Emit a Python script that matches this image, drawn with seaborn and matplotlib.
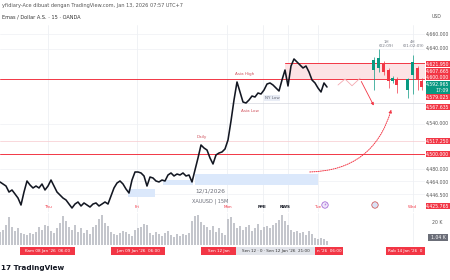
import numpy as np
import matplotlib
matplotlib.use("Agg")
import matplotlib.pyplot as plt
import seaborn as sns
from matplotlib.patches import Rectangle

# ---------------- data ----------------
close = [4462.7, 4460.0, 4457.3, 4449.3, 4452.0, 4446.7, 4441.3, 4432.0, 4449.3, 4464.0,
         4458.7, 4454.7, 4457.3, 4454.7, 4460.0, 4452.0, 4457.3, 4465.3, 4457.3, 4449.3,
         4445.3, 4441.3, 4438.7, 4433.3, 4428.0, 4433.3, 4436.0, 4430.7, 4434.7, 4432.0,
         4429.3, 4433.3, 4434.7, 4430.7, 4433.3, 4436.0, 4433.3, 4444.0, 4454.7, 4461.3,
         4464.0, 4460.0, 4453.3, 4448.0, 4465.3, 4476.0, 4476.0, 4474.7, 4470.7, 4457.3,
         4469.3, 4468.0, 4464.0, 4462.7, 4465.3, 4464.0, 4472.0, 4474.7, 4470.7, 4473.3,
         4472.0, 4474.7, 4470.7, 4472.0, 4462.7, 4478.7, 4494.7, 4512.0, 4508.0, 4505.3,
         4494.7, 4486.7, 4498.7, 4501.3, 4502.7, 4506.7, 4518.7, 4544.0, 4572.0, 4596.0,
         4582.7, 4569.3, 4568.0, 4572.0, 4577.3, 4576.0, 4581.3, 4580.0, 4585.3, 4593.3,
         4594.7, 4592.0, 4588.0, 4584.0, 4598.7, 4612.0, 4590.7, 4617.3, 4626.7, 4622.7,
         4618.7, 4614.7, 4617.3, 4609.3, 4598.7, 4594.7, 4588.0, 4582.7, 4594.7, 4589.3]

volume_k = [12, 14, 18, 25, 16, 13, 15, 11, 10, 9,
            11, 10, 12, 16, 14, 18, 17, 13, 11, 15,
            20, 26, 22, 16, 14, 18, 12, 15, 11, 14,
            10, 16, 18, 24, 27, 20, 17, 12, 10, 9,
            11, 13, 12, 10, 8, 14, 15, 16, 19, 18,
            11, 9, 12, 10, 8, 11, 13, 9, 7, 10,
            8, 10, 9, 11, 22, 26, 27, 21, 18, 16,
            14, 17, 12, 15, 11, 9, 24, 25, 20, 15,
            17, 14, 16, 18, 13, 15, 19, 14, 16, 17,
            15, 18, 20, 23, 27, 22, 18, 14, 12, 13,
            11, 12, 9, 13, 10, 6, 5, 6, 5, 4]

# higher-timeframe candles on the right (1H then 4H)
htf_open = [4612, 4615, 4620, 4612, 4598, 4600, 4585, 4605, 4615, 4598]
htf_high = [4630, 4640, 4624, 4615, 4604, 4603, 4602, 4632, 4618, 4601]
htf_low = [4585, 4610, 4606, 4588, 4595, 4582, 4575, 4580, 4585, 4586]
htf_close = [4625, 4628, 4610, 4598, 4602, 4592, 4600, 4622, 4600, 4590]

axis_ticks = [4660.000, 4640.000, 4540.000, 4480.000, 4464.000, 4446.500]
red_levels = [4621.950, 4607.665, 4600.000, 4579.025, 4567.635, 4517.250, 4500.000, 4425.765]
last_price = 4592.965
day_labels = ["Thu", "Fri", "Mon", "Tue", "Wed"]
time_labels = ["Kam 08 Jan '26  06:00", "Jum 09 Jan '26  06:00", "Sen 12 Jan",
               "Sen 12 · 0 · Sen 12 Jan '26  21:00", "n '26  06:00", "Rab 14 Jan '26  0"]

# ---------------- style ----------------
sns.set_theme(style="white")
plt.rcParams["font.family"] = ["DejaVu Sans"]
RED = "#f23645"
GREEN = "#089981"
INK = "#131722"
GRID = "#eef0f4"

W, H = 450, 280
fig = plt.figure(figsize=(4.5, 2.8), dpi=100)
fig.patch.set_facecolor("white")

Y0 = 154.0   # pixel of 4500
K = 0.75     # px per USD
def pp(y):
    return 4500.0 + (Y0 - y) / K

PL, PR = 0, 425
axp = fig.add_axes([PL / W, 1 - 212 / H, (PR - PL) / W, 187 / H])
axv = fig.add_axes([PL / W, 1 - 245 / H, (PR - PL) / W, 32 / H])
axo = fig.add_axes([0, 0, 1, 1], zorder=5)
axo.set_xlim(0, W); axo.set_ylim(H, 0); axo.axis("off")

for a in (axp, axv):
    a.set_xlim(0, PR - PL)
    a.set_xticks([]); a.set_yticks([])
    for s in a.spines.values():
        s.set_visible(False)
    a.set_facecolor("none")
axp.set_ylim(pp(212), pp(25))
axv.set_ylim(0, 29)

# grid
for gx in [48, 137, 227, 263, 288, 318, 413]:
    axp.axvline(gx, color=GRID, lw=0.6, zorder=0)
    axv.axvline(gx, color=GRID, lw=0.6, zorder=0)
for t in axis_ticks:
    axp.axhline(t, color=GRID, lw=0.5, zorder=0)

# zones
axp.add_patch(Rectangle((128, 4442.7), 27, 10.6, color="#dbe8fb", lw=0, zorder=1))
axp.add_patch(Rectangle((163, 4458.7), 30, 6.6, color="#dbe8fb", lw=0, zorder=1))
axp.add_patch(Rectangle((195, 4458.7), 123, 14.6, color="#dbe8fb", lw=0, zorder=1))
axp.add_patch(Rectangle((285, 4600.0), 140, 21.95, color="#fce3e5", lw=0, zorder=1))

# levels
axp.axhline(4600.0, color=RED, lw=0.7, zorder=2)
axp.axhline(4500.0, color=RED, lw=0.7, zorder=2)
axp.plot([285, 425], [4621.95, 4621.95], color=RED, lw=0.7, zorder=2)
axp.axhline(4517.25, color="#f7c9cd", lw=0.5, zorder=1)
axp.plot([230, 425], [4567.635, 4567.635], color="#d6d8de", lw=0.5, zorder=1)

# price line
xs = np.arange(len(close)) * 3
sns.lineplot(x=xs, y=close, ax=axp, color=INK, lw=1.15, zorder=4)

# higher timeframe candles
hx = [374, 379, 384, 389, 393, 397, 408, 413, 418, 422]
for x, o, h_, l_, c in zip(hx, htf_open, htf_high, htf_low, htf_close):
    col = GREEN if c >= o else RED
    axp.vlines(x, l_, h_, color=col, lw=0.5, zorder=4)
    axp.bar(x, abs(c - o), bottom=min(o, c), width=3, color=col, lw=0, zorder=4)

# projection drawings
zz_x = [338, 345, 352, 360]
zz_y = [4592.0, 4600.0, 4591.0, 4601.0]
axp.plot(zz_x, zz_y, color="#f4a9b0", lw=0.6, zorder=3)
axp.annotate("", xy=(375, pp(108)), xytext=(360, pp(79)),
             arrowprops=dict(arrowstyle="-|>", color=RED, lw=0.6, mutation_scale=4))
axp.annotate("", xy=(392, pp(107)), xytext=(307, pp(172)),
             arrowprops=dict(arrowstyle="-|>", color=RED, lw=0.7, ls=(0, (1, 1.2)),
                             mutation_scale=4, connectionstyle="arc3,rad=0.38"))

# volume
axv.bar(xs, volume_k, width=2.2, color="#c4c6cc", lw=0)

# chart texts
axo.text(2, 5, "yfidiary-Ace dibuat dengan TradingView.com, Jan 13, 2026 07:57 UTC+7",
         fontsize=3.6, color="#555", va="center")
axo.text(2, 17, "Emas / Dollar A.S. · 15 · OANDA", fontsize=3.6, color="#333", va="center")
axo.text(245, 74, "Asia High", fontsize=3, color="#d0525d", ha="center", va="center")
axo.text(250, 111, "Asia Low", fontsize=3, color="#d0525d", ha="center", va="center")
axo.text(272, 98, "NY Low", fontsize=3, color="#6a6d78", ha="center", va="center",
         bbox=dict(boxstyle="square,pad=0.2", fc="#e8ecf5", ec="none"))
axo.text(202, 137, "Daily", fontsize=3, color="#d0525d", ha="center", va="center")
axo.text(210, 191, "12/1/2026", fontsize=4.2, color="#6a6d78", ha="center", va="center")
axo.text(210, 201, "XAUUSD | 15M", fontsize=3.6, color="#6a6d78", ha="center", va="center")
axo.text(386, 44, "1H\n(02:09)", fontsize=3, color="#787b86", ha="center", va="center",
         linespacing=1.1)
axo.text(413, 44, "4H\n(01:02:09)", fontsize=3, color="#787b86", ha="center", va="center",
         linespacing=1.1)

for lx, lab in zip([48, 137, 228, 318, 412], day_labels):
    axo.text(lx, 207, lab, fontsize=3, color=RED, ha="center", va="center")
axo.text(262, 207, "PMI", fontsize=3, color=INK, ha="center", va="center", weight="bold")
axo.text(285, 207, "NWS", fontsize=3, color=INK, ha="center", va="center", weight="bold")
axo.add_patch(plt.Circle((325, 205), 3.2, fc="#efe6fb", ec="#9b59d0", lw=0.5))
axo.text(325, 205, "⚡", fontsize=3, color="#9b59d0", ha="center", va="center")
axo.add_patch(plt.Circle((375, 205), 3.2, fc="#d9e2f5", ec="#c44", lw=0.5))

# right price axis
axo.add_patch(Rectangle((425, 0), 25, 246, fc="white", ec="none", zorder=0))
axo.text(437, 17, "USD", fontsize=3.3, color="#555", ha="center", va="center")
for t, yy in zip(axis_ticks, [34, 48, 123, 169, 182, 195]):
    axo.text(449, yy, f"{t:,.3f}", fontsize=3.3, color="#555", ha="right", va="center")
for t, yy in zip(red_levels, [64, 71, 77, 97, 107, 141, 154, 206]):
    axo.add_patch(Rectangle((426, yy - 3), 24, 6, fc=RED, ec="none"))
    axo.text(449, yy, f"{t:,.3f}", fontsize=3.3, color="white", ha="right", va="center")
axo.add_patch(Rectangle((426, 81), 24, 13, fc=GREEN, ec="none"))
axo.text(449, 84.5, f"{last_price:,.3f}", fontsize=3.3, color="white", ha="right", va="center")
axo.text(449, 90.5, "17:09", fontsize=3.3, color="white", ha="right", va="center")
axo.text(437, 223, "20 K", fontsize=3.3, color="#555", ha="center", va="center")
axo.add_patch(Rectangle((428, 234), 20, 7, fc="#6b6e78", ec="none"))
axo.text(438, 237.5, "1.04 K", fontsize=3.3, color="white", ha="center", va="center")

# bottom time axis
for (x0, x1), lab, col in zip([(20, 75), (111, 165), (201, 236), (236, 315), (315, 343), (386, 425)],
                               time_labels,
                               [RED, RED, RED, "#e2e4ea", RED, RED]):
    axo.add_patch(Rectangle((x0, 247), x1 - x0, 8, fc=col, ec="none"))
    axo.text((x0 + x1) / 2, 251, lab, fontsize=3, color="white" if col == RED else "#333",
             ha="center", va="center", clip_on=True)

axo.text(1, 268, "17 TradingView", fontsize=5.2, color=INK, weight="bold", va="center")

fig.savefig("out.png", dpi=100, facecolor="white")
